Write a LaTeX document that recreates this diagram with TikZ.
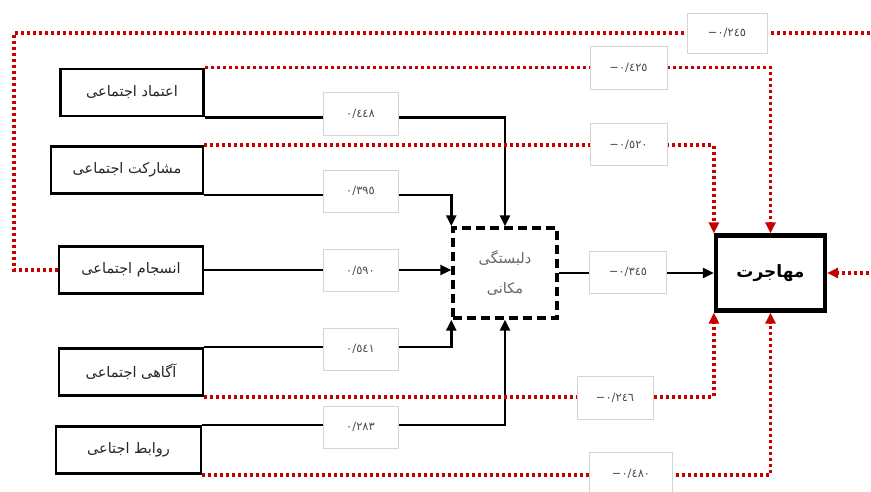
\documentclass[tikz,border=0pt]{standalone}
\usepackage{fontspec}
\usetikzlibrary{arrows.meta}
\TeXXeTstate=1
\newfontfamily\ar[Script=Arabic]{DejaVu Sans}
\definecolor{dred}{RGB}{200,0,0}
\definecolor{lblgray}{RGB}{212,212,212}
\newcommand{\negval}[1]{\hbox{\ar −}\hbox{\ar #1}}
\begin{document}
\begin{tikzpicture}[x=1pt,y=-1pt,
  inbox/.style={draw, line width=2.8pt, minimum width=143pt, minimum height=47pt, font=\ar\fontsize{14.5}{16}\selectfont, text=black!85},
  lbl/.style={draw=lblgray, line width=0.7pt, fill=white, minimum width=76pt, minimum height=42pt, inner sep=1pt, font=\ar\fontsize{11.5}{13}\selectfont, text=black!70},
  blk/.style={line width=2.6pt, black},
  blkarrow/.style={blk, -{Triangle[length=11pt,width=10pt]}},
  reddot/.style={line width=3.3pt, dred, dash pattern=on 3pt off 3pt},
  redarrow/.style={reddot, -{Triangle[length=11pt,width=10pt]}}
]
\useasboundingbox (0,0) rectangle (871,492);
\fill[white] (0,0) rectangle (871,492);
\clip (0,0) rectangle (871,492);

% input boxes
\node[inbox] (et) at (132,92.5) {\beginR اعتماد اجتماعی\endR};
\node[inbox, minimum width=152pt] (mo) at (127,170) {\beginR مشارکت اجتماعی\endR};
\node[inbox, minimum width=144pt] (en) at (131,270) {\beginR انسجام اجتماعی\endR};
\node[inbox, minimum width=144pt] (ag) at (131,372) {\beginR آگاهی اجتماعی\endR};
\node[inbox, minimum width=145pt] (ra) at (128.5,450) {\beginR روابط اجتاعی\endR};

% mediator
\node[draw, line width=3.4pt, dash pattern=on 9pt off 5pt, minimum width=104pt, minimum height=90pt, align=center, text=black!60, font=\ar\fontsize{14.5}{30}\selectfont] (med) at (505,273) {\beginR دلبستگی\endR\\\beginR مکانی\endR};

% outcome
\node[draw, line width=4.2pt, minimum width=109pt, minimum height=75pt, font=\ar\bfseries\fontsize{17}{19}\selectfont] (moh) at (770.5,273) {\beginR مهاجرت\endR};

% black connectors
\draw[blkarrow] (et.south east) -| (med.north);
\draw[blkarrow] (mo.south east) -| (med.north west);
\draw[blkarrow] (en.east) -- (en.east -| med.west);
\draw[blkarrow] (ag.north east) -| (med.south west);
\draw[blkarrow] (ra.north east) -| (med.south);
\draw[blkarrow] (med.east) -- (moh.west);

% red connectors
\coordinate (c1) at (14,270);
\coordinate (c2) at (14,33);
\coordinate (c3) at (895,33);
\coordinate (c4) at (895,273);
\draw[redarrow] (en.west) -- (c1) -- (c2) -- (c3) -- (c4) -- (moh.east);
\draw[redarrow] (et.north east) -| (moh.north);
\draw[redarrow] (mo.north east) -| (moh.north west);
\draw[redarrow] (ag.south east) -| (moh.south west);
\draw[redarrow] (ra.south east) -| (moh.south);

% labels
\node[lbl, minimum width=80pt, minimum height=40pt] (l0) at (727,33) {\negval{٠/٢٤٥}};
\node[lbl, minimum width=75pt, minimum height=43pt] (l1) at (360.5,113.5) {٠/٤٤٨};
\node[lbl, minimum width=75pt] (l2) at (360.5,191) {٠/٣٩٥};
\node[lbl, minimum width=75pt] (l3) at (360.5,270.5) {٠/٥٩٠};
\node[lbl, minimum width=75pt] (l4) at (360.5,349) {٠/٥٤١};
\node[lbl, minimum width=75pt] (l5) at (360.5,427) {٠/٢٨٣};
\node[lbl, minimum width=77pt, minimum height=43pt] (l6) at (628.5,67.5) {\negval{٠/٤٢٥}};
\node[lbl, minimum width=77pt] (l7) at (628.5,144.5) {\negval{٠/٥٢٠}};
\node[lbl, minimum width=77pt] (l8) at (628,272) {\negval{٠/٣٤٥}};
\node[lbl, minimum width=76pt, minimum height=43pt] (l9) at (615,397.5) {\negval{٠/٢٤٦}};
\node[lbl, minimum width=83pt, minimum height=44pt] (l10) at (631,474) {\negval{٠/٤٨٠}};
\end{tikzpicture}
\end{document}
